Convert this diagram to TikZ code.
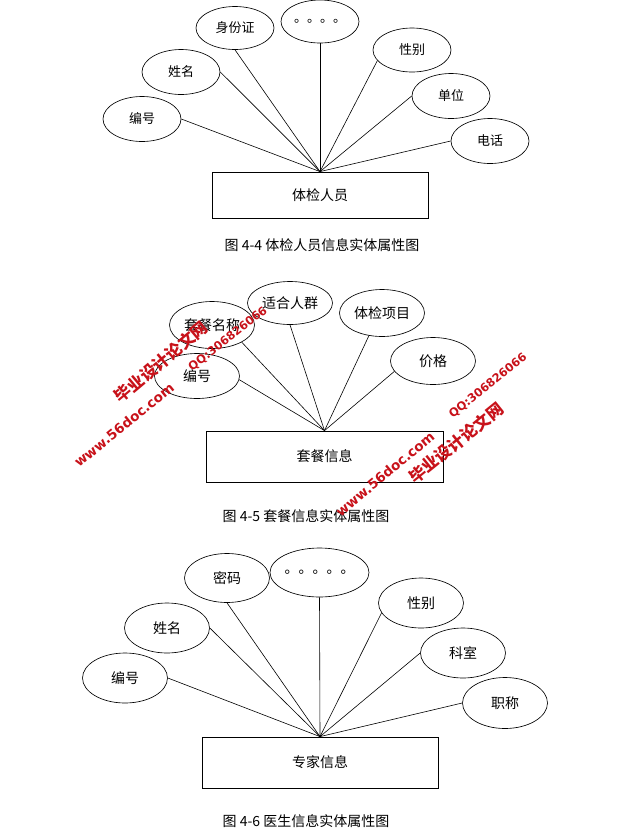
\documentclass[tikz,border=0pt]{standalone}
\usepackage{fontspec}
\setmainfont{Noto Sans CJK SC}
\newfontfamily\wmfont{DejaVu Sans}
\usetikzlibrary{shapes.geometric}
\definecolor{wmred}{RGB}{200,18,26}
\begin{document}
\begin{tikzpicture}[x=1pt,y=-1pt,
  attr/.style={ellipse,draw,line width=0.65pt,fill=white,inner sep=0pt},
  aone/.style={attr,minimum width=78pt,minimum height=45pt,font=\fontsize{13}{13}\selectfont},
  atwo/.style={attr,minimum width=85pt,minimum height=46pt,font=\fontsize{14}{14}\selectfont},
  athree/.style={attr,minimum width=85pt,minimum height=49pt,font=\fontsize{14}{14}\selectfont},
  ent/.style={draw,line width=0.8pt,inner sep=0pt,font=\fontsize{14}{14}\selectfont},
  link/.style={line width=0.6pt},
  captxt/.style={inner sep=0pt,font=\fontsize{14}{14}\selectfont},
  wmcn/.style={text=wmred,inner sep=0pt,font=\fontsize{16.5}{16.5}\selectfont\bfseries},
  wmen/.style={text=wmred,inner sep=0pt,font=\wmfont\bfseries\fontsize{13.5}{13.5}\selectfont},
  wmqq/.style={text=wmred,inner sep=0pt,font=\wmfont\bfseries\fontsize{11.5}{11.5}\selectfont}]
\useasboundingbox (0,0) rectangle (622,831);
\fill[white] (0,0) rectangle (622,831);

% ---------- Diagram 1 ----------
\node[ent,minimum width=216pt,minimum height=46pt] (r1) at (320,195) {体检人员};
\node[aone] (b1) at (142,119) {编号};
\node[aone] (n1) at (181,72) {姓名};
\node[aone,minimum height=43pt] (s1) at (235,28) {身份证};
\node[aone,minimum height=43pt] (d1) at (320,21.5) {\raisebox{0.12em}{。。。。}};
\node[aone,minimum height=44pt] (x1) at (412,50) {性别};
\node[aone] (u1) at (451,96) {单位};
\node[aone] (t1) at (490,141) {电话};
\draw[link] (r1.north) -- (b1.east);
\draw[link] (r1.north) -- (n1.east);
\draw[link] (r1.north) -- (s1.south);
\draw[link] (r1.north) -- (d1.south);
\draw[link] (r1.north) -- (x1.197);
\draw[link] (r1.north) -- (u1.west);
\draw[link] (r1.north) -- (t1.west);
\node[captxt] (c1) at (322,245) {图 4-4 体检人员信息实体属性图};

% ---------- Diagram 2 ----------
\node[ent,minimum width=237pt,minimum height=51pt] (r2) at (324.5,456.5) {套餐信息};
\node[atwo,minimum height=47pt] (m2) at (212,325) {套餐名称};
\node[atwo,minimum height=43pt] (h2) at (290,303) {适合人群};
\node[atwo,minimum height=47pt] (p2) at (382,313) {体检项目};
\node[atwo,minimum height=47pt] (j2) at (433,361) {价格};
\node[atwo,minimum height=45pt] (b2) at (197,376) {编号};
\draw[link] (r2.north) -- (m2.330);
\draw[link] (r2.north) -- (h2.south);
\draw[link] (r2.north) -- (p2.240);
\draw[link] (r2.north) -- (j2.195);
\draw[link] (r2.north) -- (b2.355);
\node[captxt] (c2) at (306,516) {图 4-5 套餐信息实体属性图};

% ---------- Diagram 3 ----------
\node[ent,minimum width=236pt,minimum height=51pt] (r3) at (320,762.5) {专家信息};
\node[athree] (k3) at (227,578) {密码};
\node[athree] (d3) at (319.5,572.5) {\raisebox{0.12em}{。。。。。}};
\node[athree,minimum height=50pt] (x3) at (421,603) {性别};
\node[athree,minimum height=50pt] (n3) at (167,628) {姓名};
\node[athree,minimum height=50pt] (o3) at (463,653) {科室};
\node[athree,minimum height=50pt] (b3) at (125,678) {编号};
\node[athree,minimum height=51pt] (z3) at (505,703) {职称};
\draw[link] (r3.north) -- (b3.east);
\draw[link] (r3.north) -- (n3.east);
\draw[link] (r3.north) -- (k3.south);
\draw[link] (r3.north) -- (d3.south);
\draw[link] (r3.north) -- (x3.194);
\draw[link] (r3.north) -- (o3.west);
\draw[link] (r3.north) -- (z3.west);
\node[captxt] (c3) at (306,821) {图 4-6 医生信息实体属性图};

% ---------- Watermarks ----------
\node[wmcn,rotate=40] (w1) at (161,362) {毕业设计论文网};
\node[wmqq,rotate=38] (w2) at (228,339) {QQ:306826066};
\node[wmen,rotate=39] (w3) at (124,425) {www.56doc.com};
\node[wmqq,rotate=39] (w4) at (488,386) {QQ:306826066};
\node[wmcn,rotate=39] (w5) at (456,443) {毕业设计论文网};
\node[wmen,rotate=40] (w6) at (385,474) {www.56doc.com};
\end{tikzpicture}
\end{document}
